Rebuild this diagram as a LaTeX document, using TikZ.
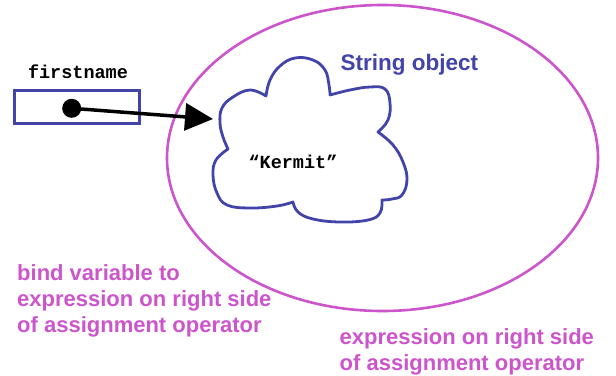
\documentclass[tikz,border=0pt]{standalone}
\usepackage{fontspec}
\setmainfont{Liberation Sans}
\newfontfamily\monofont{Liberation Mono}
\usetikzlibrary{shapes.geometric,arrows.meta}
\definecolor{objblue}{RGB}{66,68,170}
\definecolor{pinktext}{RGB}{204,85,204}
\tikzset{
  pinklbl/.style={font=\fontsize{22}{26}\selectfont\bfseries, text=pinktext, align=left, inner sep=0pt},
  monolbl/.style={font=\monofont\fontsize{18.5}{20}\selectfont\bfseries, inner sep=0pt},
  cloudline/.style={draw=objblue, line width=2.8pt, line join=round},
}
\begin{document}
\begin{tikzpicture}[x=1pt,y=-1pt]
\useasboundingbox (0,0) rectangle (616,375);
% object ellipse
\node (obj) [ellipse, draw=pinktext, line width=2.6pt, minimum width=431pt, minimum height=306pt, inner sep=0pt] at (382.5,158) {};
% cloud
\draw[cloudline]
  plot[smooth, tension=0.7] coordinates {(228,149) (223,137) (220,123) (222,108) (233,97) (250,90) (266,96)}
  -- plot[smooth, tension=0.7] coordinates {(266,96) (270,80) (280,66) (295,58) (313,60) (325,70) (329,85) (330,95)}
  -- plot[smooth, tension=0.7] coordinates {(330,95) (350,90) (370,87) (385,89) (390,103) (388,120) (378,132)}
  -- plot[smooth, tension=0.7] coordinates {(378,132) (393,145) (403,162) (407,180) (402,195) (392,199) (382,200)}
  -- plot[smooth, tension=0.7] coordinates {(382,200) (380,213) (368,220) (340,222) (313,219) (298,212) (293,202)}
  -- plot[smooth, tension=0.7] coordinates {(293,202) (277,206) (250,208) (227,205) (217,193) (213,175) (216,160) (228,149)}
  -- cycle;
\node (kermit) [monolbl, anchor=base] at (293,168) {“Kermit”};
\node (strobj) [font=\fontsize{22.5}{26}\selectfont\bfseries, text=objblue, anchor=base west, inner sep=0pt] at (340.5,70.5) {String object};
% variable
\node (varname) [monolbl, anchor=base] at (78,78.3) {firstname};
\node (var) [draw=objblue, line width=2.5pt, minimum width=125pt, minimum height=33pt, inner sep=0pt] at (77,107) {};
\node (dot) [circle, fill=black, minimum size=19pt, inner sep=0pt] at (71.7,108.3) {};
\coordinate (tip) at (213,119);
\draw[line width=3.5pt, -{Triangle[length=28pt,width=27pt]}] (dot.center) -- (tip);
% labels (base anchor = baseline of last line)
\node (bindlbl) [pinklbl, anchor=base west] at (17,332) {bind variable to\\expression on right side\\of assignment operator};
\node (exprlbl) [pinklbl, anchor=base west] at (339.5,370) {expression on right side\\of assignment operator};
\end{tikzpicture}
\end{document}
